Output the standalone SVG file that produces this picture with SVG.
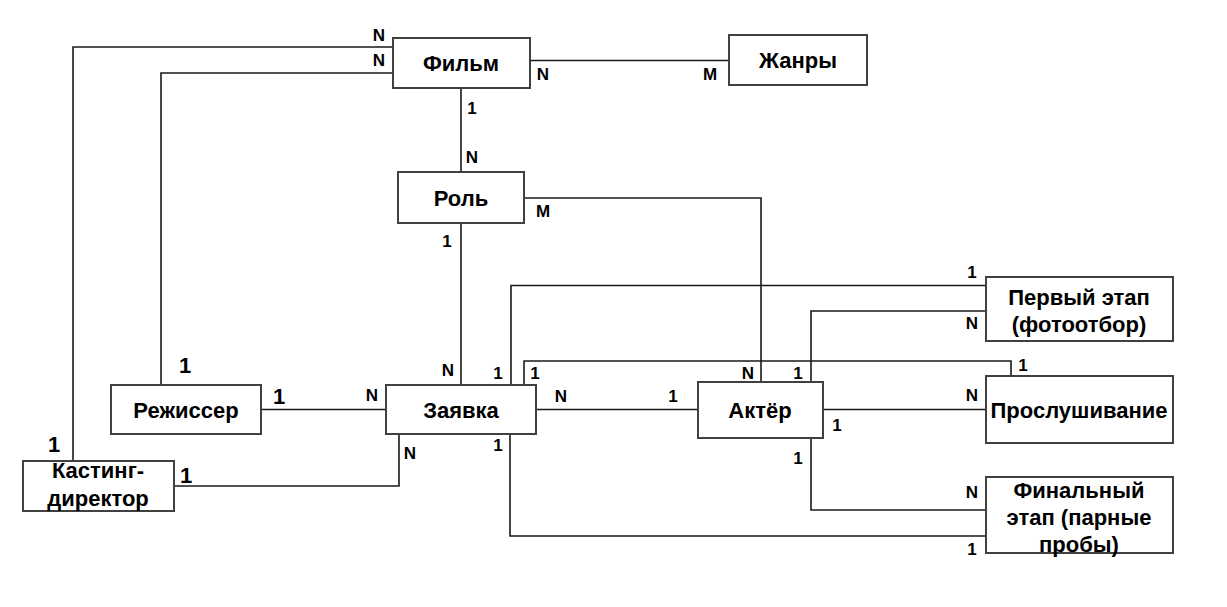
<svg xmlns="http://www.w3.org/2000/svg" width="1227" height="607" viewBox="0 0 1227 607">
<style>
.box{fill:#fff;stroke:#404040;stroke-width:2}
.nt{font-family:"Liberation Sans",Arial,sans-serif;font-weight:bold;font-size:22px;fill:#000;text-anchor:middle}
.lb{font-family:"Liberation Sans",Arial,sans-serif;font-weight:bold;font-size:17px;fill:#000;text-anchor:middle}
.lbb{font-family:"Liberation Sans",Arial,sans-serif;font-weight:bold;font-size:22px;fill:#000;text-anchor:middle}
.cn{fill:none;stroke:#1a1a1a;stroke-width:1.6}
</style>
<rect width="1227" height="607" fill="#fff"/>
<g id="connectors">
<polyline class="cn" points="73,461 73,47 393,47"/>
<polyline class="cn" points="161,385 161,73 393,73"/>
<polyline class="cn" points="530,60.5 729,60.5"/>
<polyline class="cn" points="461,88 461,172"/>
<polyline class="cn" points="461,223 461,385"/>
<polyline class="cn" points="524,198 761,198 761,382"/>
<polyline class="cn" points="261,409.5 386,409.5"/>
<polyline class="cn" points="174,486 399,486 399,434"/>
<polyline class="cn" points="536,409.5 698,409.5"/>
<polyline class="cn" points="511,385 511,285.5 986,285.5"/>
<polyline class="cn" points="524,385 524,361 1011,361 1011,376"/>
<polyline class="cn" points="811,382 811,311 986,311"/>
<polyline class="cn" points="823,409.5 986,409.5"/>
<polyline class="cn" points="811,438 811,510 986,510"/>
<polyline class="cn" points="510,434 510,536 986,536"/>
</g>
<g id="labels">
<text class="lb" x="379" y="41">N</text>
<text class="lb" x="379" y="66">N</text>
<text class="lb" x="543" y="80">N</text>
<text class="lb" x="710" y="80">M</text>
<text class="lb" x="472" y="114">1</text>
<text class="lb" x="472" y="163">N</text>
<text class="lb" x="543" y="217">M</text>
<text class="lb" x="447" y="247">1</text>
<text class="lb" x="448" y="376">N</text>
<text class="lb" x="498" y="379">1</text>
<text class="lb" x="535" y="379">1</text>
<text class="lb" x="372" y="401">N</text>
<text class="lb" x="561" y="402">N</text>
<text class="lb" x="673" y="402">1</text>
<text class="lb" x="410" y="459">N</text>
<text class="lb" x="498" y="451">1</text>
<text class="lb" x="748" y="379">N</text>
<text class="lb" x="798" y="379">1</text>
<text class="lb" x="837" y="431">1</text>
<text class="lb" x="798" y="464">1</text>
<text class="lb" x="972" y="278">1</text>
<text class="lb" x="972" y="329">N</text>
<text class="lb" x="1023" y="371">1</text>
<text class="lb" x="972" y="401">N</text>
<text class="lb" x="972" y="498">N</text>
<text class="lb" x="972" y="555">1</text>
<text class="lbb" x="185" y="373">1</text>
<text class="lbb" x="279" y="404">1</text>
<text class="lbb" x="54" y="452">1</text>
<text class="lbb" x="186" y="483">1</text>
</g>
<g id="film"><rect class="box" x="393" y="38" width="137" height="50"/><text class="nt" x="461" y="71">Фильм</text></g>
<g id="zhanry"><rect class="box" x="729" y="35" width="138" height="50"/><text class="nt" x="798" y="68">Жанры</text></g>
<g id="rol"><rect class="box" x="398" y="172" width="126" height="51"/><text class="nt" x="461" y="206">Роль</text></g>
<g id="rezhisser"><rect class="box" x="111" y="385" width="150" height="49"/><text class="nt" x="186" y="418">Режиссер</text></g>
<g id="zayavka"><rect class="box" x="386" y="385" width="150" height="49"/><text class="nt" x="461" y="418">Заявка</text></g>
<g id="akter"><rect class="box" x="698" y="382" width="125" height="56"/><text class="nt" x="760" y="418">Актёр</text></g>
<g id="kasting"><rect class="box" x="23" y="461" width="151" height="50"/><text class="nt" x="98" y="478">Кастинг-</text><text class="nt" x="98" y="506">директор</text></g>
<g id="perviy"><rect class="box" x="986" y="277" width="187" height="64"/><text class="nt" x="1079" y="305">Первый этап</text><text class="nt" x="1079" y="332">(фотоотбор)</text></g>
<g id="proslush"><rect class="box" x="986" y="376" width="187" height="67"/><text class="nt" x="1079" y="418">Прослушивание</text></g>
<g id="final"><rect class="box" x="986" y="477" width="187" height="76"/><text class="nt" x="1079" y="498">Финальный</text><text class="nt" x="1079" y="525">этап (парные</text><text class="nt" x="1079" y="552">пробы)</text></g>
</svg>
